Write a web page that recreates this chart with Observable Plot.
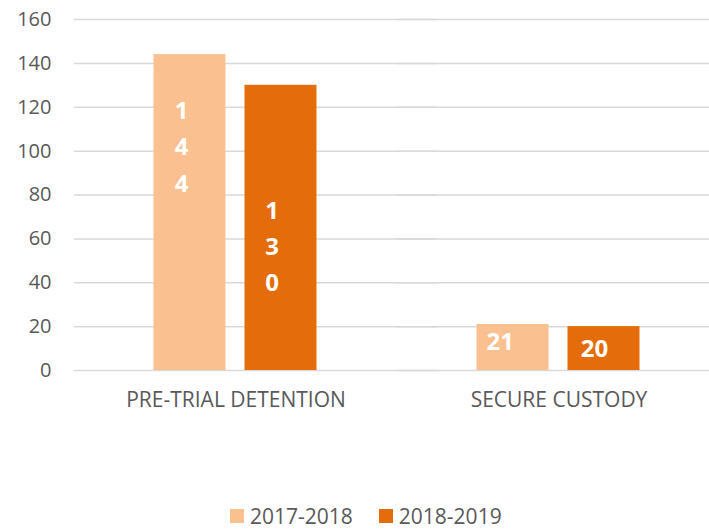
<!DOCTYPE html>
<html>
<head>
<meta charset="utf-8">
<script src="https://cdn.jsdelivr.net/npm/d3@7"></script>
<script src="https://cdn.jsdelivr.net/npm/@observablehq/plot@0.6"></script>
<style>
  html, body { margin: 0; padding: 0; background: #fff; }
  body { width: 709px; height: 529px; overflow: hidden; font-family: "Open Sans", sans-serif; }
  #chart { width: 709px; height: 495px; overflow: hidden; }
  #legend { padding-top: 4px; padding-left: 230px; }
  .lg-swatch { margin-right: 26px !important; }
  .lg-swatch > svg { margin-right: 6px !important; }
</style>
</head>
<body>
<div id="chart"></div>
<div id="legend"></div>
<script>
const categories = ["PRE-TRIAL DETENTION", "SECURE CUSTODY"];
const years = ["2017-2018", "2018-2019"];
const values2017 = [144, 21];
const values2018 = [130, 20];
const yTicks = [0, 20, 40, 60, 80, 100, 120, 140, 160];
const colors = ["#FAC090", "#E46C0A"];

const rows = [];
categories.forEach((c, i) => {
  rows.push({category: c, year: years[0], value: values2017[i]});
  rows.push({category: c, year: years[1], value: values2018[i]});
});

const textColor = "#595959";
const font = "Open Sans";

function labelText(d) {
  const s = String(d.value);
  return s.length > 2 ? s.split("").join("\n") : s;
}
function labelMark(cat, year, dx, dy) {
  return Plot.text(rows.filter(d => d.category === cat && d.year === year), {
    fx: "category", x: "year", y: "value", text: labelText,
    dx, dy, fill: "white", fontWeight: "bold", fontSize: 24,
    lineHeight: 1.52, lineAnchor: "middle", fontFamily: font
  });
}

const chart = Plot.plot({
  width: 760,
  height: 495,
  marginTop: 19,
  marginBottom: 125,
  marginLeft: 73.5,
  marginRight: 0,
  style: {fontFamily: font, color: textColor, background: "white", maxWidth: "none"},
  fx: {domain: categories, range: [73.5, 719.5], paddingInner: 0, paddingOuter: 0, label: null},
  x: {domain: years, range: [152.7, 317], paddingInner: 0.209, paddingOuter: 0, axis: null},
  y: {domain: [0, 160], label: null},
  color: {domain: years, range: colors},
  marks: [
    Plot.gridY(yTicks, {stroke: "#D9D9D9", strokeOpacity: 1, strokeWidth: 1.5, insetRight: -40}),
    Plot.axisY(yTicks, {tickSize: 0, tickPadding: 23, fontSize: 20, fill: textColor, label: null, fontFamily: font}),
    Plot.axisFx({anchor: "bottom", tickSize: 0, tickPadding: 22, fontSize: 21, fill: textColor, label: null, fontFamily: font}),
    Plot.barY(rows, {fx: "category", x: "year", y: "value", fill: "year"}),
    labelMark(categories[0], years[0], -8.5, 89),
    labelMark(categories[0], years[1], -9, 158),
    labelMark(categories[1], years[0], -12.7, 13.6),
    labelMark(categories[1], years[1], -9.5, 19)
  ]
});
document.getElementById("chart").appendChild(chart);

const legend = Plot.legend({
  color: {domain: years, range: colors},
  legend: "swatches",
  swatchSize: 14,
  className: "lg",
  style: {fontFamily: font, fontSize: "21px", color: textColor}
});
document.getElementById("legend").appendChild(legend);
</script>
</body>
</html>
